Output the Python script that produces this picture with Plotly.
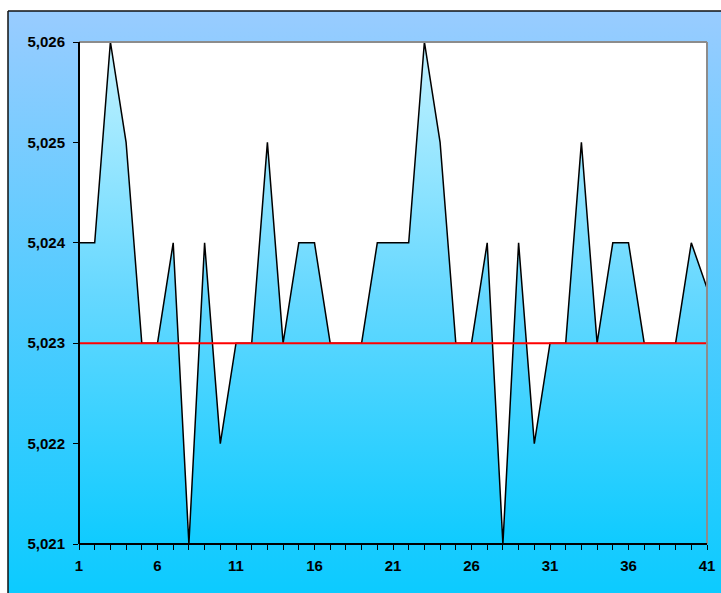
import base64
import plotly.graph_objects as go

# Measured diameter per sample, with the nominal value drawn as a reference line
sample = list(range(1, 42))
diameter = [
    5.024, 5.024, 5.026, 5.025, 5.023, 5.023, 5.024, 5.021, 5.024, 5.022,
    5.023, 5.023, 5.025, 5.023, 5.024, 5.024, 5.023, 5.023, 5.023, 5.024,
    5.024, 5.024, 5.026, 5.025, 5.023, 5.023, 5.024, 5.021, 5.024, 5.022,
    5.023, 5.023, 5.025, 5.023, 5.024, 5.024, 5.023, 5.023, 5.023, 5.024,
    5.02355,
]
nominal = 5.023
y_ticks = [5.021, 5.022, 5.023, 5.024, 5.025, 5.026]
x_ticks = [1, 6, 11, 16, 21, 26, 31, 36, 41]

W, H = 721, 593
ML, MR, MT, MB = 79, 14, 42, 49
PW, PH = W - ML - MR, H - MT - MB


def px_to_paper_x(px):
    return (px - ML) / PW


def px_to_paper_y(py):
    return 1 - (py - MT) / PH


# Vertical blue gradient used for the chart panel behind the plot area
svg = (
    '<svg xmlns="http://www.w3.org/2000/svg" width="100" height="100" '
    'preserveAspectRatio="none">'
    '<defs><linearGradient id="g" x1="0" y1="0" x2="0" y2="1">'
    '<stop offset="0" stop-color="#99CCFF"/>'
    '<stop offset="1" stop-color="#0CCBFF"/>'
    '</linearGradient></defs>'
    '<rect width="100" height="100" fill="url(#g)"/></svg>'
)
panel_src = "data:image/svg+xml;base64," + base64.b64encode(svg.encode()).decode()

fig = go.Figure()

# Baseline for the area fill
fig.add_trace(go.Scatter(
    x=sample, y=[y_ticks[0]] * len(sample), mode="lines",
    line=dict(width=0, color="rgba(0,0,0,0)"), hoverinfo="skip", showlegend=False,
))
fig.add_trace(go.Scatter(
    x=sample, y=diameter, mode="lines",
    line=dict(color="black", width=1.5),
    fill="tonexty",
    fillgradient=dict(
        type="vertical",
        colorscale=[[0, "#0FCBFF"], [0.5, "#66D8FF"], [1, "#C2F2FF"]],
        start=y_ticks[0], stop=y_ticks[-1],
    ),
    showlegend=False,
))
fig.add_trace(go.Scatter(
    x=sample, y=[nominal] * len(sample), mode="lines",
    line=dict(color="#FF0000", width=2), showlegend=False,
))

tick_font = dict(family="Liberation Sans, Arial, sans-serif", size=15,
                 color="black", weight="bold")

frame = dict(xref="x domain", yref="y domain", type="line", layer="above")

fig.update_layout(
    width=W, height=H,
    margin=dict(l=ML, r=MR, t=MT, b=MB, pad=0, autoexpand=False),
    paper_bgcolor="white",
    plot_bgcolor="rgba(0,0,0,0)",
    separators=", ",
    showlegend=False,
    images=[dict(
        source=panel_src, xref="paper", yref="paper",
        x=px_to_paper_x(8), y=px_to_paper_y(11),
        sizex=px_to_paper_x(W) - px_to_paper_x(8),
        sizey=px_to_paper_y(11) - px_to_paper_y(H),
        xanchor="left", yanchor="top", sizing="stretch", layer="below",
    )],
    shapes=[
        # white plot area
        dict(type="rect", xref="x domain", yref="y domain", x0=0, x1=1, y0=0, y1=1,
             fillcolor="white", line=dict(width=0), layer="below"),
        # grey frame on top and right, black axes on left and bottom
        dict(frame, x0=0, x1=1, y0=1, y1=1, line=dict(color="#8C8C8C", width=2)),
        dict(frame, x0=1, x1=1, y0=0, y1=1, line=dict(color="#8C8C8C", width=2)),
        dict(frame, x0=0, x1=0, y0=0, y1=1, line=dict(color="black", width=2)),
        dict(frame, x0=0, x1=1, y0=0, y1=0, line=dict(color="black", width=2)),
        # dark outline of the chart panel
        dict(type="line", xref="paper", yref="paper",
             x0=px_to_paper_x(8), x1=px_to_paper_x(W),
             y0=px_to_paper_y(11), y1=px_to_paper_y(11),
             line=dict(color="#111111", width=1.5)),
        dict(type="line", xref="paper", yref="paper",
             x0=px_to_paper_x(8), x1=px_to_paper_x(8),
             y0=px_to_paper_y(11), y1=px_to_paper_y(H),
             line=dict(color="#111111", width=1.5)),
    ],
    xaxis=dict(
        range=[sample[0], sample[-1]], automargin=False,
        tickvals=x_ticks, ticktext=[str(v) for v in x_ticks],
        ticks="outside", ticklen=5, tickcolor="black", tickwidth=1,
        minor=dict(dtick=1, tick0=1, ticks="outside", ticklen=5,
                   tickcolor="black", tickwidth=1),
        showline=False, showgrid=False, zeroline=False, tickfont=tick_font,
        ticklabelstandoff=3,
    ),
    yaxis=dict(
        range=[y_ticks[0], y_ticks[-1]], automargin=False,
        tickvals=y_ticks, tickformat=".3f",
        ticks="outside", ticklen=5, tickcolor="black", tickwidth=1,
        showline=False, showgrid=False, zeroline=False, tickfont=tick_font,
        ticklabelstandoff=5,
    ),
)

fig.write_html("out.html", config=dict(displayModeBar=False))
